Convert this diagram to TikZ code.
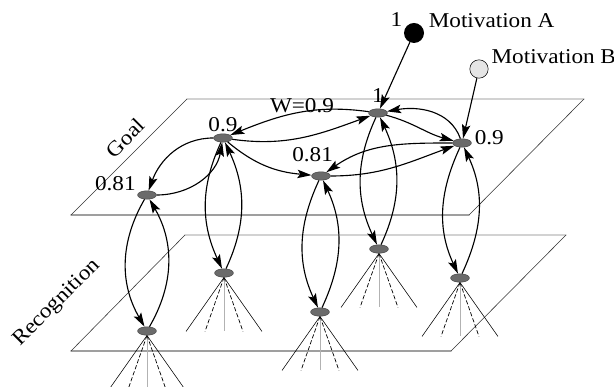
\documentclass[tikz,border=0pt]{standalone}
\usepackage{fontspec}
\setmainfont{Liberation Serif}[FakeStretch=1.1]
\usepackage{tkz-euclide}
\usetikzlibrary{arrows.meta,positioning,shapes.geometric}

\tikzset{
    unit/.style={ellipse, draw=black!70, fill=black!58, minimum width=0.47cm, minimum height=0.21cm, inner sep=0pt},
    arr/.style={-{Stealth[length=10pt,width=6pt,inset=2pt]}, line width=0.8pt},
    lbl/.style={font=\fontsize{15}{17}\selectfont, inner sep=1pt},
    fanout/.style={line width=0.4pt},
    fanmid/.style={line width=0.5pt, dash pattern=on 3pt off 1.5pt},
}

\begin{document}
\begin{tikzpicture}[x=0.025cm, y=0.025cm]
    \useasboundingbox (0,0) rectangle (614,387);
    % planes
    \tkzDefPoints{187/288/P1, 584/288/P2, 469/172/P3, 71/172/P4}
    \tkzDefPoints{185/152/Q1, 566/152/Q2, 451/36/Q3, 71/36/Q4}
    \tkzDrawSegments[gray!35, line width=1pt](P1,P2 Q1,Q2)
    \tkzDrawSegments[gray!75, line width=1pt](P3,P4 Q3,Q4)
    \tkzDrawSegments[black!80, line width=0.4pt](P2,P3 P4,P1 Q2,Q3 Q4,Q1)
    \node[lbl, rotate=45] (goallbl) at (125,249) {Goal};
    \node[lbl, rotate=45] (reclbl) at (57,84) {Recognition};

    % goal units
    \node[unit] (g1) at (378,274) {};
    \node[unit] (gb) at (462,244) {};
    \node[unit] (g09) at (223,249) {};
    \node[unit] (gm) at (321,211) {};
    \node[unit] (gl) at (147,192) {};
    % recognition units
    \node[unit] (r1) at (147,56) {};
    \node[unit] (r2) at (224,114) {};
    \node[unit] (r3) at (320,75) {};
    \node[unit] (r4) at (379,138) {};
    \node[unit] (r5) at (460,109) {};
    % motivations
    \node[circle, fill=black, minimum size=0.5cm, inner sep=0pt] (ma) at (414,354) {};
    \node[circle, draw, fill=gray!20, minimum size=0.46cm, inner sep=0pt] (mb) at (479,318) {};

    \node[lbl, above left=-2pt and 2pt of ma] (malbl) {1};
    \node[lbl, right=2pt of ma, yshift=8.5pt] (manm) {Motivation A};
    \node[lbl, right=1pt of mb, yshift=9pt] (mbnm) {Motivation B};
    \node[lbl, above=3pt of g1] (g1lbl) {1};
    \node[lbl, right=1pt of gb, yshift=4pt] (gblbl) {0.9};
    \node[lbl, above=0pt of g09] (g09lbl) {0.9};
    \node[lbl, above=6pt of gm, xshift=-6pt] (gmlbl) {0.81};
    \node[lbl, left=0pt of gl, yshift=8pt] (gllbl) {0.81};
    \node[lbl] (wlbl) at (302,281) {W=0.9};

    % input fans
    \foreach \r in {r1,r2,r3,r4,r5}{
        \draw[fanout] (\r.south) -- ++(-38,-54);
        \draw[fanmid] (\r.south) -- ++(-19,-54);
        \draw[gray!60] (\r.south) -- ++(0,-54);
        \draw[fanmid] (\r.south) -- ++(19,-54);
        \draw[fanout] (\r.south) -- ++(38,-54);
    }

    \draw[arr] (ma) -- (g1);
    \draw[arr] (mb) -- (gb);

    % lateral links in goal layer
    \draw[arr] (g1) to[out=172, in=22] (g09);
    \draw[arr] (g09) to[out=-8, in=200] (g1);
    \draw[arr] (g09) to[out=180, in=70] (gl);
    \draw[arr] (gl) to[out=0, in=-100] (g09);
    \draw[arr] (g09) to[out=-40, in=175] (gm);
    \draw[arr] (g1) to[out=-15, in=165] (gb);
    \draw[arr] (gb) to[out=110, in=10] (g1);
    \draw[arr] (gm) to[out=0, in=200] (gb);
    \draw[arr] (gb) to[out=180, in=35] (gm);

    % goal <-> recognition
    \draw[arr] (gl) to[out=-120, in=120] (r1);
    \draw[arr] (r1) to[out=60, in=-60] (gl);
    \draw[arr] (g09) to[out=-115, in=115] (r2);
    \draw[arr] (r2) to[out=65, in=-65] (g09);
    \draw[arr] (gm) to[out=-115, in=115] (r3);
    \draw[arr] (r3) to[out=65, in=-65] (gm);
    \draw[arr] (g1) to[out=-115, in=115] (r4);
    \draw[arr] (r4) to[out=65, in=-65] (g1);
    \draw[arr] (gb) to[out=-115, in=115] (r5);
    \draw[arr] (r5) to[out=65, in=-65] (gb);
\end{tikzpicture}
\end{document}
